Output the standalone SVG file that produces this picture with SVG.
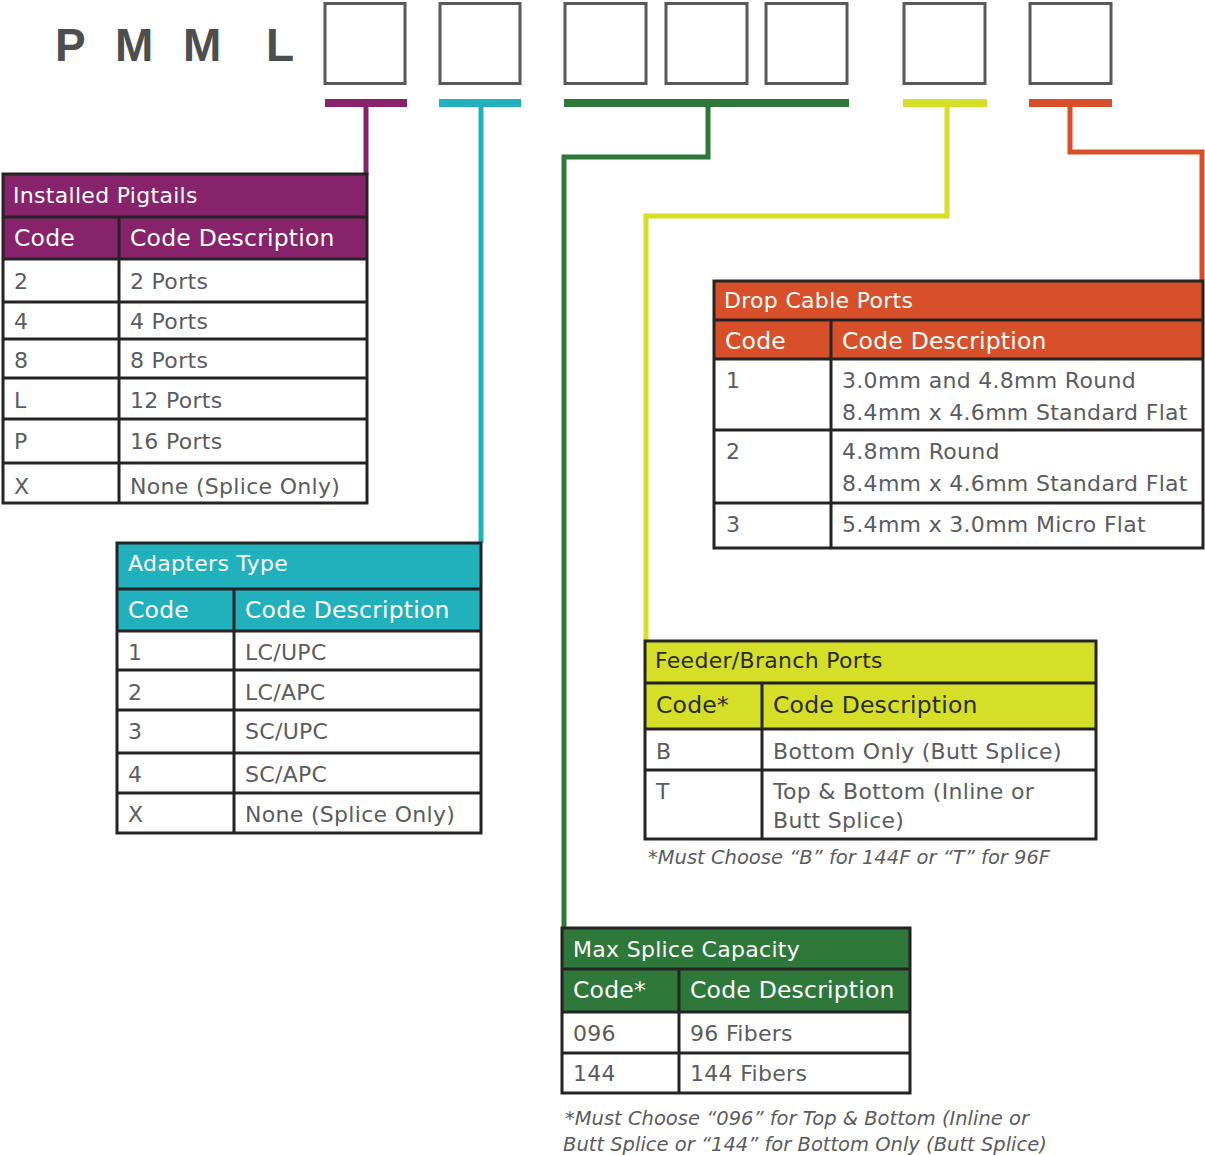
<svg xmlns="http://www.w3.org/2000/svg" width="1205" height="1155" viewBox="0 0 1205 1155">
<style>
.box{fill:#fff;stroke:#58595b;stroke-width:3}
.grid{fill:none;stroke:#262324;stroke-width:3}
.t{font-family:"DejaVu Sans","Liberation Sans",sans-serif;font-size:22px;letter-spacing:0.3px;fill:#5b5c5e}
.h{font-size:23.5px;letter-spacing:0.2px}
.w{fill:#fff}
.dk{fill:#2b2b2b}
.note{font-family:"DejaVu Sans","Liberation Sans",sans-serif;font-size:19.5px;font-style:italic;fill:#5b5c5e}
.conn{fill:none;stroke-width:5;stroke-linejoin:miter}
.pmml{font-family:"Liberation Sans",Arial,sans-serif;font-weight:bold;font-size:46px;fill:#4d4e50}
</style>
<rect width="1205" height="1155" fill="#fff"/>
<g id="code-header">
<text class="pmml" x="55 80 115 160 183 230 266" y="61">P M M L</text>
<rect class="box" x="325" y="3.5" width="80" height="80"/>
<rect class="box" x="440" y="3.5" width="80" height="80"/>
<rect class="box" x="565" y="3.5" width="81" height="80"/>
<rect class="box" x="666" y="3.5" width="81" height="80"/>
<rect class="box" x="766" y="3.5" width="81" height="80"/>
<rect class="box" x="904" y="3.5" width="81" height="80"/>
<rect class="box" x="1030" y="3.5" width="81" height="80"/>
<rect x="325" y="99" width="82" height="8" fill="#87236a"/>
<rect x="439" y="99" width="82" height="8" fill="#21b1bc"/>
<rect x="564" y="99" width="285" height="8" fill="#2e783a"/>
<rect x="903" y="99" width="84" height="8" fill="#d5df27"/>
<rect x="1029" y="99" width="83" height="8" fill="#d8502a"/>
</g>
<g id="connectors">
<polyline class="conn" stroke="#87236a" points="366,107 366,175"/>
<polyline class="conn" stroke="#21b1bc" points="481,107 481,543"/>
<polyline class="conn" stroke="#2e783a" points="708,107 708,157 564,157 564,927"/>
<polyline class="conn" stroke="#d5df27" points="947,107 947,216 646,216 646,640"/>
<polyline class="conn" stroke="#d8502a" points="1070,107 1070,152 1202,152 1202,280"/>
</g>
<g id="installed-pigtails">
<rect x="3" y="174" width="364" height="85" fill="#87236a"/>
<rect class="grid" x="3" y="174" width="364" height="329"/>
<path class="grid" d="M3 217H367M3 259H367M3 302H367M3 339H367M3 378H367M3 419H367M3 463H367M119 217V503"/>
<text class="t w" x="13" y="203">Installed Pigtails</text>
<text class="t h w" x="14" y="246">Code</text>
<text class="t h w" x="130" y="246">Code Description</text>
<text class="t" x="14" y="289">2</text><text class="t" x="130" y="289">2 Ports</text>
<text class="t" x="14" y="329">4</text><text class="t" x="130" y="329">4 Ports</text>
<text class="t" x="14" y="368">8</text><text class="t" x="130" y="368">8 Ports</text>
<text class="t" x="14" y="408">L</text><text class="t" x="130" y="408">12 Ports</text>
<text class="t" x="14" y="449">P</text><text class="t" x="130" y="449">16 Ports</text>
<text class="t" x="14" y="494">X</text><text class="t" x="130" y="494">None (Splice Only)</text>
</g>
<g id="adapters-type">
<rect x="117" y="543" width="364" height="88" fill="#21b1bc"/>
<rect class="grid" x="117" y="543" width="364" height="290"/>
<path class="grid" d="M117 589H481M117 631H481M117 670H481M117 710H481M117 753H481M117 793H481M234 589V833"/>
<text class="t w" x="128" y="571">Adapters Type</text>
<text class="t h w" x="128" y="618">Code</text>
<text class="t h w" x="245" y="618">Code Description</text>
<text class="t" x="128" y="660">1</text><text class="t" x="245" y="660">LC/UPC</text>
<text class="t" x="128" y="700">2</text><text class="t" x="245" y="700">LC/APC</text>
<text class="t" x="128" y="739">3</text><text class="t" x="245" y="739">SC/UPC</text>
<text class="t" x="128" y="782">4</text><text class="t" x="245" y="782">SC/APC</text>
<text class="t" x="128" y="822">X</text><text class="t" x="245" y="822">None (Splice Only)</text>
</g>
<g id="drop-cable-ports">
<rect x="714" y="281" width="489" height="78" fill="#d8502a"/>
<rect class="grid" x="714" y="281" width="489" height="267"/>
<path class="grid" d="M714 320H1203M714 359H1203M714 430H1203M714 503H1203M831 320V548"/>
<text class="t w" x="724" y="308">Drop Cable Ports</text>
<text class="t h w" x="725" y="349">Code</text>
<text class="t h w" x="842" y="349">Code Description</text>
<text class="t" x="726" y="388">1</text>
<text class="t" x="842" y="388">3.0mm and 4.8mm Round</text>
<text class="t" x="842" y="420">8.4mm x 4.6mm Standard Flat</text>
<text class="t" x="726" y="459">2</text>
<text class="t" x="842" y="459">4.8mm Round</text>
<text class="t" x="842" y="491">8.4mm x 4.6mm Standard Flat</text>
<text class="t" x="726" y="532">3</text>
<text class="t" x="842" y="532">5.4mm x 3.0mm Micro Flat</text>
</g>
<g id="feeder-branch-ports">
<rect x="645" y="641" width="451" height="88" fill="#d5df27"/>
<rect class="grid" x="645" y="641" width="451" height="198"/>
<path class="grid" d="M645 683H1096M645 729H1096M645 770H1096M762 683V839"/>
<text class="t dk" x="655" y="668">Feeder/Branch Ports</text>
<text class="t h dk" x="656" y="713">Code*</text>
<text class="t h dk" x="773" y="713">Code Description</text>
<text class="t" x="656" y="759">B</text>
<text class="t" x="773" y="759">Bottom Only (Butt Splice)</text>
<text class="t" x="656" y="799">T</text>
<text class="t" x="773" y="799">Top &amp; Bottom (Inline or</text>
<text class="t" x="773" y="828">Butt Splice)</text>
<text class="note" x="648" y="864">*Must Choose “B” for 144F or “T” for 96F</text>
</g>
<g id="max-splice-capacity">
<rect x="562" y="928" width="348" height="84" fill="#2e783a"/>
<rect class="grid" x="562" y="928" width="348" height="165"/>
<path class="grid" d="M562 969H910M562 1012H910M562 1053H910M679 969V1093"/>
<text class="t w" x="573" y="957">Max Splice Capacity</text>
<text class="t h w" x="573" y="998">Code*</text>
<text class="t h w" x="690" y="998">Code Description</text>
<text class="t" x="573" y="1041">096</text><text class="t" x="690" y="1041">96 Fibers</text>
<text class="t" x="573" y="1081">144</text><text class="t" x="690" y="1081">144 Fibers</text>
<text class="note" x="565" y="1125">*Must Choose “096” for Top &amp; Bottom (Inline or</text>
<text class="note" x="563" y="1151">Butt Splice or “144” for Bottom Only (Butt Splice)</text>
</g>
</svg>
